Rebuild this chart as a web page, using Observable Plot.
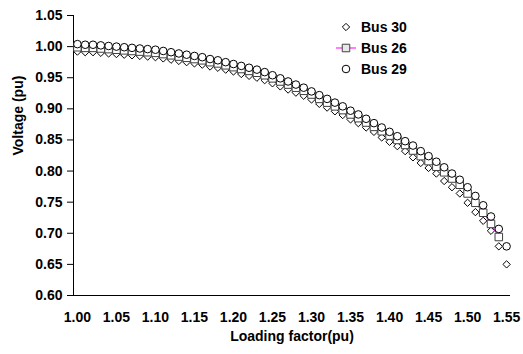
<!DOCTYPE html>
<html><head><meta charset="utf-8">
<script src="https://cdn.jsdelivr.net/npm/d3@7"></script>
<script src="https://cdn.jsdelivr.net/npm/@observablehq/plot@0.6"></script>
<style>body{margin:0;background:#fff} #chart{position:relative;width:523px;height:354px}</style>
</head><body><div id="chart"></div>
<script>
const loading = [1.00,1.01,1.02,1.03,1.04,1.05,1.06,1.07,1.08,1.09,1.10,1.11,1.12,1.13,1.14,1.15,1.16,1.17,1.18,1.19,1.20,1.21,1.22,1.23,1.24,1.25,1.26,1.27,1.28,1.29,1.30,1.31,1.32,1.33,1.34,1.35,1.36,1.37,1.38,1.39,1.40,1.41,1.42,1.43,1.44,1.45,1.46,1.47,1.48,1.49,1.50,1.51,1.52,1.53,1.54,1.55];
const bus30 = [0.992,0.991,0.991,0.990,0.989,0.988,0.987,0.986,0.985,0.984,0.983,0.981,0.979,0.977,0.975,0.973,0.971,0.968,0.966,0.963,0.960,0.956,0.953,0.950,0.946,0.941,0.936,0.931,0.926,0.921,0.915,0.908,0.902,0.896,0.890,0.883,0.877,0.870,0.863,0.854,0.847,0.840,0.832,0.822,0.813,0.805,0.796,0.784,0.774,0.764,0.749,0.734,0.720,0.704,0.679,0.650];
const bus26 = [0.999,0.998,0.998,0.997,0.996,0.995,0.994,0.993,0.992,0.991,0.990,0.988,0.986,0.984,0.982,0.980,0.978,0.975,0.973,0.970,0.967,0.964,0.961,0.958,0.954,0.949,0.944,0.939,0.934,0.929,0.923,0.916,0.910,0.904,0.898,0.891,0.885,0.878,0.871,0.864,0.857,0.850,0.842,0.833,0.824,0.816,0.807,0.798,0.788,0.778,0.764,0.749,0.733,0.715,0.694,null];
const bus29 = [1.004,1.003,1.003,1.002,1.001,1.000,0.999,0.998,0.997,0.996,0.995,0.993,0.991,0.989,0.987,0.985,0.983,0.980,0.978,0.975,0.972,0.969,0.966,0.963,0.959,0.954,0.949,0.944,0.939,0.934,0.928,0.922,0.916,0.910,0.904,0.897,0.891,0.884,0.877,0.870,0.863,0.856,0.848,0.841,0.832,0.824,0.815,0.806,0.796,0.786,0.774,0.760,0.745,0.727,0.707,0.679];
const xTicks = [1.00,1.05,1.10,1.15,1.20,1.25,1.30,1.35,1.40,1.45,1.50,1.55];
const yTicks = [0.60,0.65,0.70,0.75,0.80,0.85,0.90,0.95,1.00,1.05];
const seriesNames = ["Bus 30","Bus 26","Bus 29"];

const rows = vals => loading.map((x, i) => ({x, y: vals[i]}));
const d30 = rows(bus30), d26 = rows(bus26), d29 = rows(bus29);
const fmt = d3.format(".2f");
const font = "'Liberation Sans', Arial, sans-serif";

const plot = Plot.plot({
  width: 523, height: 354,
  marginLeft: 73, marginRight: 13, marginTop: 15, marginBottom: 59,
  style: {fontFamily: font, fontSize: "14px", fontWeight: "bold", color: "#000", background: "#fff", overflow: "visible"},
  x: {domain: [0.995, 1.555]},
  y: {domain: [0.60, 1.05]},
  marks: [
    Plot.axisX({ticks: xTicks, tickFormat: fmt, tickSize: 0, tickPadding: 17, label: null}),
    Plot.axisY({ticks: yTicks, tickFormat: fmt, tickSize: 6, tickPadding: 5, label: null}),
    Plot.ruleY([0.60], {stroke: "#000"}),
    Plot.ruleX([0.995], {stroke: "#000"}),
    Plot.dot(d30, {x: "x", y: "y", symbol: "diamond2", r: 3.3, stroke: "#000", fill: "#fff", strokeWidth: 1}),
    Plot.line(d26, {x: "x", y: "y", stroke: "#ff00ff", strokeWidth: 1}),
    Plot.dot(d26, {x: "x", y: "y", symbol: "square2", r: 4.8, stroke: "#404040", fill: "#fff", strokeWidth: 1}),
    Plot.dot(d29, {x: "x", y: "y", symbol: "circle", r: 3.8, stroke: "#000", fill: "#fff", strokeWidth: 1}),
    Plot.text(["Voltage (pu)"], {frameAnchor: "left", dx: -55, rotate: -90}),
    Plot.text(["Loading factor(pu)"], {frameAnchor: "bottom", dy: 45})
  ]
});
document.getElementById("chart").appendChild(plot);

// legend inside plot area
const legendSymbols = [
  {sym: d3.symbolDiamond2, r: 3.3, stroke: "#000", line: false},
  {sym: d3.symbolSquare2, r: 4.8, stroke: "#404040", line: true},
  {sym: d3.symbolCircle, r: 3.8, stroke: "#000", line: false}
];
const svg = d3.select(plot);
const lg = svg.append("g").attr("transform", "translate(346,27)")
  .attr("text-anchor", "start")
  .style("font-family", font).style("font-size", "14px").style("font-weight", "bold");
seriesNames.forEach((name, i) => {
  const g = lg.append("g").attr("transform", `translate(0,${i * 21})`);
  const s = legendSymbols[i];
  if (s.line) g.append("line").attr("x1", -10).attr("x2", 10).attr("stroke", "#ff00ff").attr("stroke-width", 1);
  g.append("path").attr("d", d3.symbol(s.sym, Math.PI * s.r * s.r)())
    .attr("fill", i === 1 ? "#e8e8e8" : "#fff").attr("stroke", s.stroke).attr("stroke-width", 1);
  g.append("text").attr("x", 15).attr("dy", "0.35em").attr("text-anchor", "start").attr("fill", "#000").text(name);
});
</script>
</body></html>
